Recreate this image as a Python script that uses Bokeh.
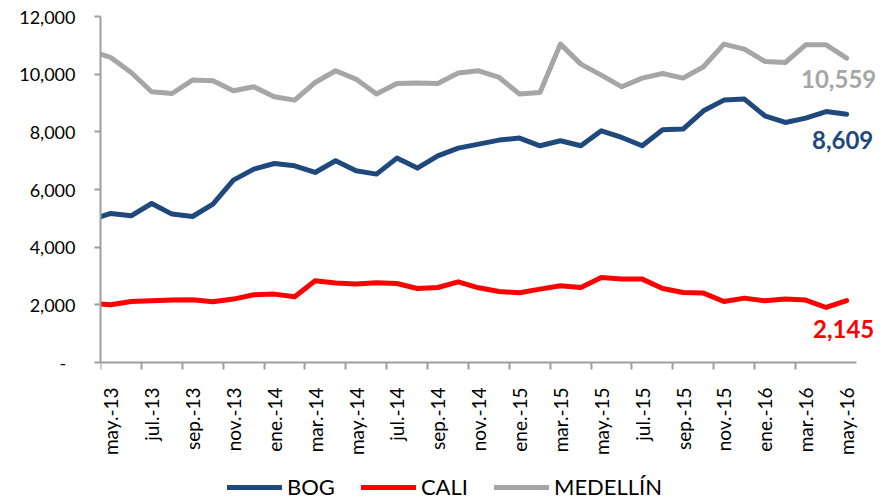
import math
from bokeh.plotting import figure
from bokeh.models import (ColumnDataSource, FixedTicker, Range1d, Legend, LegendItem,
                          Label, NumeralTickFormatter)
from bokeh.embed import file_html
from bokeh.resources import INLINE

# ---- data ----
months = ["abr.-13", "may.-13", "jun.-13", "jul.-13", "ago.-13", "sep.-13", "oct.-13", "nov.-13",
          "dic.-13", "ene.-14", "feb.-14", "mar.-14", "abr.-14", "may.-14", "jun.-14", "jul.-14",
          "ago.-14", "sep.-14", "oct.-14", "nov.-14", "dic.-14", "ene.-15", "feb.-15", "mar.-15",
          "abr.-15", "may.-15", "jun.-15", "jul.-15", "ago.-15", "sep.-15", "oct.-15", "nov.-15",
          "dic.-15", "ene.-16", "feb.-16", "mar.-16", "abr.-16", "may.-16"]
bog = [4940, 5168, 5088, 5515, 5147, 5064, 5494, 6326, 6707, 6902, 6822, 6590, 6996, 6649,
       6534, 7089, 6742, 7169, 7436, 7575, 7713, 7783, 7516, 7689, 7516, 8036, 7804, 7516,
       8071, 8095, 8730, 9100, 9135, 8556, 8324, 8476, 8705, 8609]
cali = [2049, 2001, 2116, 2140, 2164, 2175, 2105, 2199, 2348, 2372, 2279, 2834, 2754, 2719,
        2764, 2740, 2567, 2601, 2799, 2590, 2463, 2417, 2545, 2660, 2601, 2948, 2892, 2892,
        2567, 2428, 2407, 2116, 2233, 2140, 2199, 2164, 1908, 2145]
medellin = [10814, 10578, 10058, 9389, 9330, 9794, 9770, 9423, 9562, 9215, 9100, 9711, 10117,
            9829, 9309, 9676, 9690, 9676, 10037, 10117, 9885, 9309, 9365, 11043, 10349, 9968,
            9562, 9864, 10023, 9864, 10256, 11043, 10869, 10440, 10405, 11019, 11019, 10559]
y_ticks = [0, 2000, 4000, 6000, 8000, 10000, 12000]
series_names = ["BOG", "CALI", "MEDELLÍN"]
last_labels = ["8,609", "2,145", "10,559"]

BLUE = "#1F497D"
RED = "#FF0000"
GRAY = "#A6A6A6"
AXIS = "#9E9E9E"
FONT = "Lato"

x = [i - 1 for i in range(len(months))]   # may.-13 -> 0
n_cat = len(months) - 1                     # categories shown on the axis
src = ColumnDataSource(dict(x=x, bog=bog, cali=cali, med=medellin))

Y_MAX = 12000
Y_MIN = -Y_MAX * 138 / 346   # room under the axis for tick labels and legend

p = figure(width=892, height=500, output_backend="svg", toolbar_location=None,
           x_range=Range1d(-0.5, n_cat + 1.0), y_range=Range1d(Y_MIN, Y_MAX),
           min_border_left=100, min_border_right=5, min_border_top=16, min_border_bottom=0)
p.outline_line_color = None
p.xgrid.visible = False
p.ygrid.visible = False
p.background_fill_color = "white"

r_bog = p.line("x", "bog", source=src, line_color=BLUE, line_width=5, line_join="round", line_cap="round")
r_cali = p.line("x", "cali", source=src, line_color=RED, line_width=5, line_join="round", line_cap="round")
r_med = p.line("x", "med", source=src, line_color=GRAY, line_width=5, line_join="round", line_cap="round")

# x axis: labels at every 2nd category centre, tick marks at category boundaries
label_pos = [k for k in range(0, n_cat, 2)]
tick_pos = [k - 0.5 for k in range(0, n_cat - 1, 2)]
xa = p.xaxis[0]
xa.fixed_location = 0
xa.bounds = (-0.5, n_cat - 0.5)
xa.ticker = FixedTicker(ticks=label_pos, minor_ticks=tick_pos)
xa.major_label_overrides = {k: months[k + 1] for k in label_pos}
xa.major_label_orientation = math.pi / 2
xa.major_tick_out = 0
xa.major_tick_in = 0
xa.minor_tick_out = 7
xa.minor_tick_in = 0
xa.minor_tick_line_color = AXIS
xa.minor_tick_line_width = 2
xa.axis_line_color = AXIS
xa.axis_line_width = 2
xa.major_label_standoff = 18
xa.major_label_text_font = FONT
xa.major_label_text_font_size = "19px"
xa.major_label_text_color = "black"

ya = p.yaxis[0]
ya.bounds = (0, Y_MAX)
ya.ticker = FixedTicker(ticks=y_ticks)
ya.formatter = NumeralTickFormatter(format="0,0")
ya.major_label_overrides = {0: "-\u00a0\u00a0"}
ya.major_tick_out = 6
ya.major_tick_in = 0
ya.minor_tick_out = 0
ya.minor_tick_in = 0
ya.major_tick_line_color = AXIS
ya.major_tick_line_width = 2
ya.axis_line_color = AXIS
ya.axis_line_width = 2
ya.major_label_standoff = 19
ya.major_label_text_font = FONT
ya.major_label_text_font_size = "18px"
ya.major_label_text_color = "black"

# end-value labels
last_x = x[-1]
for val, txt, col, xo, yo in [(bog[-1], last_labels[0], BLUE, -4, -26),
                              (cali[-1], last_labels[1], RED, -3, -28),
                              (medellin[-1], last_labels[2], GRAY, -8, -21)]:
    p.add_layout(Label(x=last_x, y=val, text=txt, x_offset=xo, y_offset=yo,
                       text_align="center", text_baseline="alphabetic",
                       text_font=FONT, text_font_style="bold", text_font_size="24px",
                       text_color=col))

legend = Legend(items=[LegendItem(label=series_names[0], renderers=[r_bog]),
                       LegendItem(label=series_names[1], renderers=[r_cali]),
                       LegendItem(label=series_names[2], renderers=[r_med])],
                orientation="horizontal", location=(127, 0),
                glyph_width=55, glyph_height=24, label_height=24, label_standoff=5,
                spacing=26, padding=0, margin=0,
                border_line_color=None, background_fill_alpha=0,
                label_text_font=FONT, label_text_font_size="22px", label_text_color="black")
p.add_layout(legend, "center")

open("out.html", "w").write(file_html(p, INLINE))
